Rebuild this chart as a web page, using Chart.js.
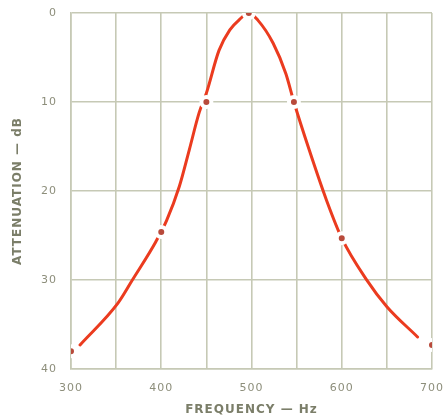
<!DOCTYPE html>
<html>
<head>
<meta charset="utf-8">
<script src="https://cdn.jsdelivr.net/npm/chart.js@4.4.1/dist/chart.umd.min.js"></script>
<style>
  body { margin: 0; background: #fff; }
</style>
</head>
<body>
<canvas id="chart" width="443" height="417"></canvas>
<script>
// measured points (dots)
var pointFreq = [300, 400, 450, 497, 547, 600, 700];
var pointDb = [38, 24.6, 10, 0, 10, 25.3, 37.3];

// hand drawn curve
var curveFreq = [310, 352, 368, 394, 406, 420, 431, 442, 450, 464, 476, 487, 497, 507, 524, 538, 547, 564, 583, 600, 627, 650, 684];
var curveDb = [37.3, 32.6, 30, 25.7, 23.3, 19.5, 15.4, 11.2, 9, 4.2, 1.9, 0.7, 0, 0.8, 3.4, 6.8, 10, 15.4, 21, 25.3, 29.9, 33, 36.4];

var xTicks = [300, 400, 500, 600, 700];
var yTicks = [0, 10, 20, 30, 40];

var gridColor = '#c6c9b5';
var labelColor = '#8d8e7b';
var titleColor = '#7b7e69';

function pairs(xs, ys) {
    var out = [];
    for (var i = 0; i < xs.length; i++) {
        out.push({ x: xs[i], y: ys[i] });
    }
    return out;
}

// letter spacing like the old print
const spacing = {
    id: 'spacing',
    beforeUpdate(chart) { chart.ctx.letterSpacing = '1px'; },
    beforeDraw(chart) { chart.ctx.letterSpacing = '1px'; }
};

const ctx = document.getElementById('chart').getContext('2d');
const myChart = new Chart(ctx, {
    type: 'scatter',
    data: {
        datasets: [{
            label: 'points',
            data: pairs(pointFreq, pointDb),
            backgroundColor: '#b84a3b',
            borderColor: '#ffffff',
            borderWidth: 4,
            pointRadius: 5,
            order: 0
        }, {
            label: 'curve',
            data: pairs(curveFreq, curveDb),
            showLine: true,
            borderColor: '#eb3b1f',
            borderWidth: 3,
            borderCapStyle: 'round',
            pointRadius: 0,
            cubicInterpolationMode: 'monotone',
            order: 1
        }]
    },
    options: {
        responsive: false,
        animation: false,
        layout: {
            padding: { top: 13, right: 11, left: 0, bottom: 0 }
        },
        plugins: {
            legend: { display: false },
            tooltip: { enabled: false }
        },
        scales: {
            x: {
                type: 'linear',
                min: 300,
                max: 700,
                afterBuildTicks: function(s) {
                    s.ticks = [];
                    for (var v = 300; v <= 700; v += 50) s.ticks.push({ value: v });
                },
                afterFit: function(s) {
                    s.height = 48;
                    s.paddingLeft = 0;
                    s.paddingRight = 0;
                },
                ticks: {
                    color: labelColor,
                    padding: 13,
                    maxRotation: 0,
                    autoSkip: false,
                    font: { family: 'DejaVu Sans', size: 11 },
                    callback: function(v) { return xTicks.indexOf(v) >= 0 ? String(v) : ''; }
                },
                grid: { color: gridColor, lineWidth: 1.6, drawTicks: false },
                border: { color: gridColor, width: 1.6 },
                title: {
                    display: true,
                    text: 'FREQUENCY — Hz',
                    color: titleColor,
                    font: { family: 'DejaVu Sans', size: 12, weight: 'bold' },
                    padding: { top: 0, bottom: 0 }
                }
            },
            y: {
                type: 'linear',
                min: 0,
                max: 40,
                reverse: true,
                afterBuildTicks: function(s) {
                    s.ticks = yTicks.map(function(v) { return { value: v }; });
                },
                afterFit: function(s) {
                    s.width = 71;
                    s.paddingTop = 0;
                    s.paddingBottom = 0;
                },
                ticks: {
                    color: labelColor,
                    padding: 14,
                    font: { family: 'DejaVu Sans', size: 11 }
                },
                grid: { color: gridColor, lineWidth: 1.6, drawTicks: false },
                border: { color: gridColor, width: 1.6 },
                title: {
                    display: true,
                    text: 'ATTENUATION — dB',
                    color: titleColor,
                    font: { family: 'DejaVu Sans', size: 12, weight: 'bold' },
                    padding: { top: 11, bottom: 0 }
                }
            }
        }
    },
    plugins: [spacing]
});
</script>
</body>
</html>
